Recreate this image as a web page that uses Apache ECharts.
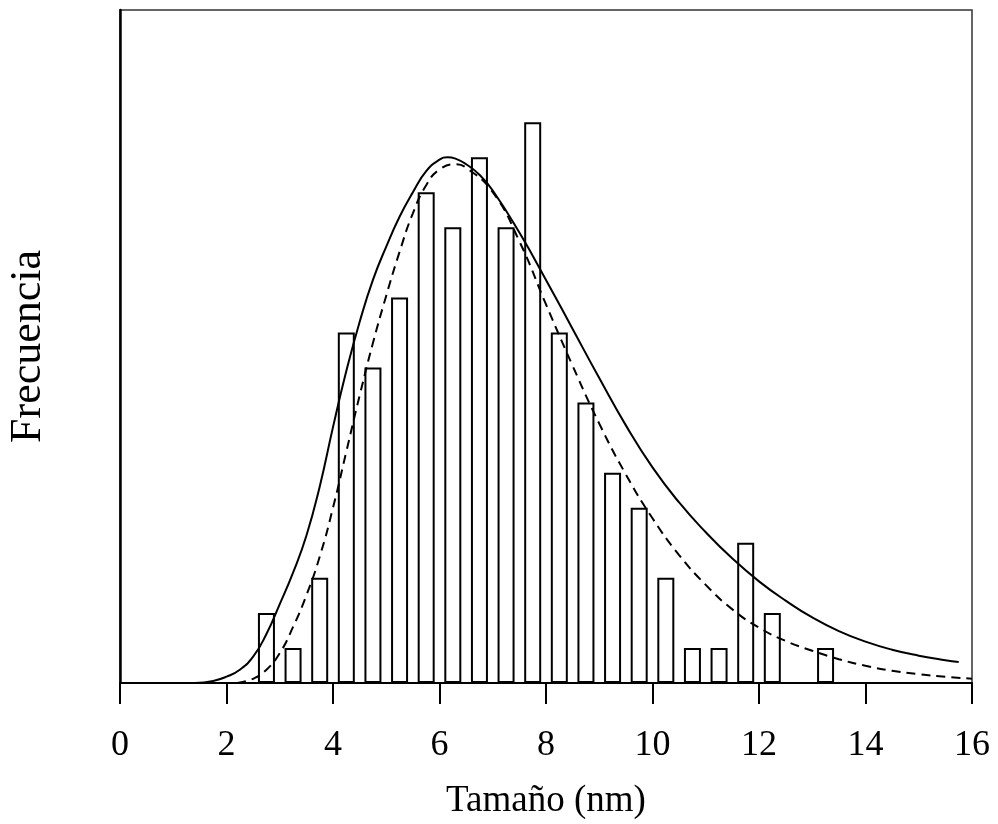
<!DOCTYPE html>
<html>
<head>
<meta charset="utf-8">
<script src="https://cdn.jsdelivr.net/npm/echarts@6/dist/echarts.min.js"></script>
<style>
  html, body { margin: 0; padding: 0; background: #fff; }
  #chart { width: 998px; height: 824px; }
</style>
</head>
<body>
<div id="chart"></div>
<script>
// histograma: centro de clase (nm) y frecuencia
const binCenters = [2.75, 3.25, 3.75, 4.25, 4.75, 5.25, 5.75, 6.25, 6.75, 7.25, 7.75,
  8.25, 8.75, 9.25, 9.75, 10.25, 10.75, 11.25, 11.75, 12.25, 13.25];
const binCounts = [2, 1, 3, 10, 9, 11, 14, 13, 15, 13, 16,
  10, 8, 6, 5, 3, 1, 1, 4, 2, 1];

// curva continua
const solidX = [1.4, 1.75, 2.0, 2.25, 2.5, 2.75, 3.0, 3.25, 3.5, 3.75, 4.0, 4.25, 4.5, 4.75,
  5.0, 5.25, 5.5, 5.75, 6.0, 6.15, 6.3, 6.5, 6.75, 7.0, 7.5, 8.0, 8.5, 9.0, 9.5, 10.0,
  10.5, 11.0, 11.5, 12.0, 12.5, 13.0, 13.5, 14.0, 14.5, 15.0, 15.5, 15.75];
const solidY = [0, 0.06, 0.18, 0.38, 0.75, 1.4, 2.25, 3.15, 4.2, 5.6, 7.3, 8.9, 10.3, 11.5,
  12.45, 13.3, 14.0, 14.6, 14.93, 15.0, 14.96, 14.8, 14.5, 14.05, 12.85, 11.5, 10.1, 8.7,
  7.35, 6.15, 5.15, 4.3, 3.55, 2.9, 2.35, 1.87, 1.48, 1.18, 0.95, 0.78, 0.65, 0.6];

// curva discontinua
const dashX = [2.2, 2.5, 2.75, 3.0, 3.25, 3.5, 3.75, 4.0, 4.25, 4.5, 4.75, 5.0, 5.25, 5.5,
  5.75, 6.0, 6.3, 6.5, 7.0, 7.5, 8.0, 8.5, 9.0, 9.5, 10.0, 10.5, 11.0, 11.5, 12.0,
  12.5, 13.0, 13.5, 14.0, 14.5, 15.0, 15.5, 16.0];
const dashY = [0, 0.12, 0.38, 0.85, 1.6, 2.5, 3.6, 5.0, 6.6, 8.2, 9.7, 11.05, 12.3, 13.4,
  14.2, 14.65, 14.8, 14.7, 14.0, 12.6, 10.8, 9.05, 7.4, 5.95, 4.7, 3.65, 2.8, 2.1, 1.58,
  1.2, 0.92, 0.68, 0.49, 0.35, 0.25, 0.18, 0.12];

const xTicks = [0, 2, 4, 6, 8, 10, 12, 14, 16];

const chart = echarts.init(document.getElementById('chart'));
const font = 'Liberation Serif';

chart.setOption({
  animation: false,
  grid: {
    left: 120, right: 26, top: 10, bottom: 141,
    containLabel: false,
    outerBoundsMode: 'none',
    show: true, borderColor: '#333', borderWidth: 1.5
  },
  xAxis: {
    type: 'value',
    min: xTicks[0], max: xTicks[xTicks.length - 1], interval: 2,
    name: 'Tamaño (nm)',
    nameLocation: 'middle',
    nameGap: 100,
    nameTextStyle: { fontFamily: font, fontSize: 37, color: '#000' },
    axisLine: { show: true, onZero: false, lineStyle: { color: '#000', width: 2 } },
    axisTick: { show: true, inside: false, length: 21, lineStyle: { color: '#000', width: 2 } },
    axisLabel: { margin: 45, fontFamily: font, fontSize: 36, color: '#000' },
    splitLine: { show: false }
  },
  yAxis: {
    type: 'value',
    min: 0, max: 19.2,
    name: 'Frecuencia',
    nameLocation: 'middle',
    nameGap: 70,
    nameTextStyle: { fontFamily: font, fontSize: 44, color: '#000' },
    axisLine: { show: true, lineStyle: { color: '#000', width: 2.5 } },
    axisTick: { show: false },
    axisLabel: { show: false },
    splitLine: { show: false }
  },
  series: [
    {
      type: 'bar',
      barWidth: 17,
      z: 1,
      itemStyle: { color: '#fff', borderColor: '#000', borderWidth: 2 },
      data: binCenters.map((x, i) => [x, binCounts[i]])
    },
    {
      type: 'line',
      smooth: 0.5,
      showSymbol: false,
      z: 3,
      lineStyle: { color: '#000', width: 2 },
      data: solidX.map((x, i) => [x, solidY[i]])
    },
    {
      type: 'line',
      smooth: 0.5,
      showSymbol: false,
      z: 3,
      lineStyle: { color: '#000', width: 2, type: [9, 6] },
      data: dashX.map((x, i) => [x, dashY[i]])
    }
  ]
});
</script>
</body>
</html>
